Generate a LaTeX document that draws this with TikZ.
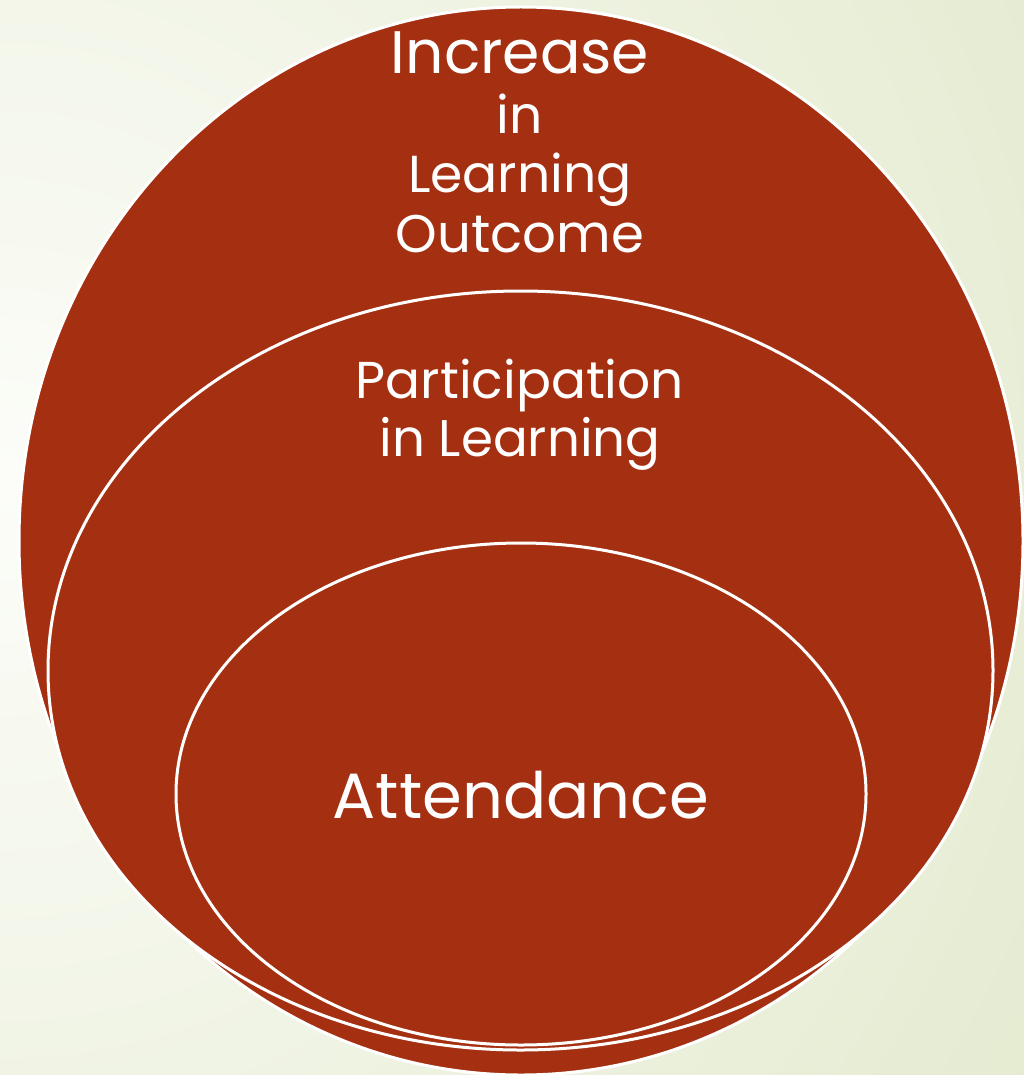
\documentclass[tikz,border=0pt]{standalone}
\usepackage{fontspec}
\setmainfont{Poppins}
\definecolor{rust}{HTML}{A53011}
\definecolor{bgin}{HTML}{FCFDF9}
\definecolor{bgout}{HTML}{DAE3BE}
\tikzset{
  ring/.style={draw=white, line width=3pt, fill=rust},
  lbl/.style={text=white, anchor=base, inner sep=0pt},
}
\begin{document}
\begin{tikzpicture}[x=1pt,y=-1pt]
\useasboundingbox (0,0) rectangle (1024,1075);
\begin{scope}
\clip (0,0) rectangle (1024,1075);
\shade[inner color=bgin, outer color=bgout] (0,480) circle (1750);
\end{scope}
\draw[ring] (521,541) ellipse [x radius=502, y radius=534];
\draw[ring] (520.5,670.5) ellipse [x radius=472.5, y radius=379.5];
\draw[ring] (521,794) ellipse [x radius=345, y radius=251];
\node[lbl, font=\fontsize{60}{60}\selectfont] (t1) at (520,74) {Increase};
\node[lbl, font=\fontsize{52}{52}\selectfont] (t2) at (520,134) {in};
\node[lbl, font=\fontsize{52}{52}\selectfont] (t3) at (520,193) {Learning};
\node[lbl, font=\fontsize{53}{53}\selectfont] (t4) at (520,252) {Outcome};
\node[lbl, font=\fontsize{51.8}{52}\selectfont] (p1) at (520,398) {Participation};
\node[lbl, font=\fontsize{51.5}{52}\selectfont] (p2) at (520,456) {in Learning};
\node[lbl, font=\fontsize{64}{64}\selectfont] (a1) at (521,818) {Attendance};
\end{tikzpicture}
\end{document}
